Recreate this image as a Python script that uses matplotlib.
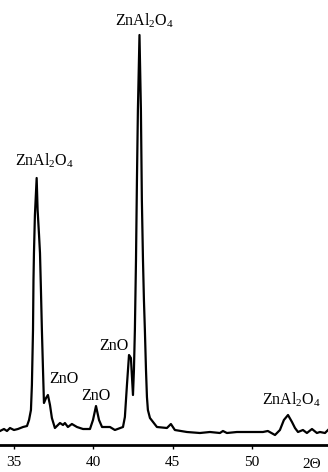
import matplotlib
matplotlib.use("Agg")
import matplotlib.pyplot as plt

plt.rcParams["font.family"] = ["Liberation Serif", "DejaVu Serif"]
plt.rcParams["mathtext.fontset"] = "custom"
plt.rcParams["mathtext.rm"] = "Liberation Serif"
plt.rcParams["mathtext.it"] = "Liberation Serif:italic"

# XRD pattern, 2-theta [deg] vs intensity [a.u.]
two_theta = [
    34.12, 34.37, 34.56, 34.75, 35.00, 35.25, 35.57, 35.82, 35.95, 36.07,
    36.13, 36.20, 36.23, 36.26, 36.32, 36.43, 36.49, 36.58, 36.64, 36.70,
    36.76, 36.83, 36.89, 37.02, 37.14, 37.27, 37.39, 37.58, 37.90, 38.09,
    38.21, 38.40, 38.65, 38.97, 39.35, 39.79, 39.98, 40.17, 40.36, 40.55,
    41.05, 41.36, 41.87, 41.99, 42.12, 42.25, 42.37, 42.50, 42.56, 42.62,
    42.69, 42.75, 42.81, 42.91, 43.00, 43.06, 43.13, 43.19, 43.25, 43.32,
    43.38, 43.44, 43.57, 44.01, 44.64, 44.89, 45.14, 45.90, 46.72, 47.35,
    47.98, 48.17, 48.42, 49.05, 50.69, 51.00, 51.45, 51.76, 52.01, 52.27,
    52.52, 52.71, 52.90, 53.21, 53.46, 53.78, 54.09, 54.28, 54.60, 54.79,
]
intensity = [
    14, 16, 14, 17, 15, 16, 18, 19, 25, 35,
    60, 115, 165, 192, 230, 267, 235, 210, 192, 155,
    115, 75, 42, 47, 50, 40, 27, 17, 22, 20,
    22, 18, 21, 18, 16, 16, 25, 39, 25, 18,
    18, 15, 18, 28, 60, 90, 87, 50, 75, 115,
    185, 265, 335, 410, 335, 245, 185, 145, 115, 75,
    48, 35, 27, 18, 17, 21, 15, 13, 12, 13,
    12, 14, 12, 13, 13, 14, 10, 15, 25, 30,
    23, 17, 13, 15, 12, 16, 12, 13, 12, 15,
]

# phase labels: text, 2-theta, height
peak_labels = ["ZnAl$_2$O$_4$", "ZnO", "ZnO", "ZnO", "ZnAl$_2$O$_4$", "ZnAl$_2$O$_4$"]
label_x = [36.95, 38.15, 40.17, 41.29, 43.20, 52.52]
label_y = [284, 66, 49, 99, 424, 45]

x_ticks = [35, 40, 45, 50]

fig = plt.figure(figsize=(3.28, 4.72), dpi=100)
ax = fig.add_axes([0, 0.0572, 1, 0.9428])

ax.plot(two_theta, intensity, color="black", linewidth=1.6)

for text, x, y in zip(peak_labels, label_x, label_y):
    ax.text(x, y, text, ha="center", va="center", fontsize=11.5)

ax.set_xlim(34.12, 54.79)
ax.set_ylim(0, 445)

ax.set_xticks(x_ticks)
ax.tick_params(axis="x", direction="out", length=3, width=1, labelsize=11, pad=5)
ax.set_yticks([])
for side in ["left", "right", "top"]:
    ax.spines[side].set_visible(False)
ax.spines["bottom"].set_linewidth(2)

ax.text(53.78, -0.044, "2Θ", transform=ax.get_xaxis_transform(),
        ha="center", va="center", fontsize=11)

fig.savefig("out.png", dpi=100)
